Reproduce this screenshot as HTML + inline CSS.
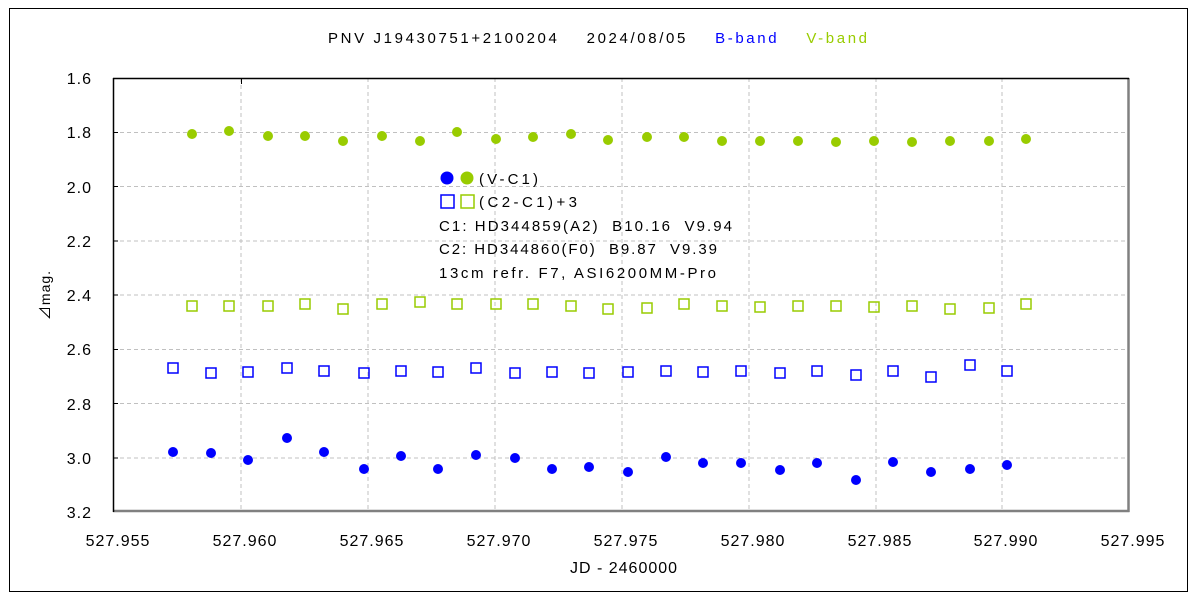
<!DOCTYPE html>
<html><head><meta charset="utf-8"><style>
body{margin:0;background:#fff}
svg text{font-family:"Liberation Sans","Noto Sans CJK JP",sans-serif;letter-spacing:1px}
</style></head><body>
<svg width="1200" height="600" xmlns="http://www.w3.org/2000/svg">
<rect x="0" y="0" width="1200" height="600" fill="#fff"/>
<rect x="9.5" y="8.5" width="1178" height="583" fill="none" stroke="#000" stroke-width="1"/>
<g stroke="#c0c0c0" stroke-dasharray="4,3" stroke-width="1">
<line x1="113" y1="132.5" x2="1129" y2="132.5"/><line x1="113" y1="186.5" x2="1129" y2="186.5"/>
<line x1="113" y1="241" x2="1129" y2="241"/><line x1="113" y1="295" x2="1129" y2="295"/>
<line x1="113" y1="349.5" x2="1129" y2="349.5"/><line x1="113" y1="403.5" x2="1129" y2="403.5"/>
<line x1="113" y1="458" x2="1129" y2="458"/>
<line x1="241" y1="78" x2="241" y2="512"/><line x1="368" y1="78" x2="368" y2="512"/>
<line x1="495" y1="78" x2="495" y2="512"/><line x1="622" y1="78" x2="622" y2="512"/>
<line x1="749" y1="78" x2="749" y2="512"/><line x1="876" y1="78" x2="876" y2="512"/>
<line x1="1002" y1="78" x2="1002" y2="512"/>
</g>
<line x1="1128.5" y1="78" x2="1128.5" y2="512" stroke="#808080" stroke-width="2.5"/>
<line x1="113" y1="511" x2="1129.5" y2="511" stroke="#808080" stroke-width="2.5"/>
<line x1="113" y1="78.5" x2="1129" y2="78.5" stroke="#000" stroke-width="1.5"/>
<line x1="113.5" y1="78" x2="113.5" y2="512" stroke="#000" stroke-width="1.5"/>
<g stroke="#000"><line x1="113" y1="132.5" x2="118" y2="132.5"/><line x1="113" y1="186.5" x2="118" y2="186.5"/><line x1="113" y1="241" x2="118" y2="241"/><line x1="113" y1="295" x2="118" y2="295"/><line x1="113" y1="349.5" x2="118" y2="349.5"/><line x1="113" y1="403.5" x2="118" y2="403.5"/><line x1="113" y1="458" x2="118" y2="458"/>
<line x1="241.5" y1="78" x2="241.5" y2="84"/></g>
<g font-size="16" text-anchor="end" fill="#000" style="letter-spacing:2px">
<text x="92" y="84">1.6</text><text x="92" y="138">1.8</text><text x="92" y="193">2.0</text><text x="92" y="247">2.2</text><text x="92" y="301">2.4</text><text x="92" y="355">2.6</text><text x="92" y="410">2.8</text><text x="92" y="464">3.0</text><text x="92" y="518">3.2</text>
</g>
<g font-size="16" text-anchor="middle" fill="#000" style="letter-spacing:3px">
<text x="118" y="546">527.955</text><text x="245" y="546">527.960</text><text x="372" y="546">527.965</text><text x="499" y="546">527.970</text><text x="626" y="546">527.975</text><text x="753" y="546">527.980</text><text x="880" y="546">527.985</text><text x="1006" y="546">527.990</text><text x="1133" y="546">527.995</text>
<text x="624" y="573">JD - 2460000</text>
</g>
<text x="0" y="0" font-size="14" text-anchor="middle" transform="translate(50,295) rotate(-90)">⊿mag.</text>
<text x="328" y="43" font-size="15" fill="#000" textLength="540" lengthAdjust="spacing" style="white-space:pre" xml:space="preserve">PNV J19430751+2100204    2024/08/05    <tspan fill="#0000ff">B-band</tspan>    <tspan fill="#99cc00">V-band</tspan></text>
<g font-size="15" fill="#000">
<circle cx="447" cy="178" r="6.5" fill="#0000ff"/><circle cx="467" cy="178" r="6.5" fill="#99cc00"/>
<text x="479" y="184" textLength="60" lengthAdjust="spacing">(V-C1)</text>
<rect x="441" y="195" width="13" height="13" fill="none" stroke="#0000ff" stroke-width="1.5"/>
<rect x="461" y="195" width="13" height="13" fill="none" stroke="#99cc00" stroke-width="1.5"/>
<text x="479" y="207" textLength="99" lengthAdjust="spacing">(C2-C1)+3</text>
<text x="439" y="231" textLength="294" lengthAdjust="spacing" style="white-space:pre" xml:space="preserve">C1: HD344859(A2)  B10.16  V9.94</text>
<text x="439" y="254" textLength="279" lengthAdjust="spacing" style="white-space:pre" xml:space="preserve">C2: HD344860(F0)  B9.87  V9.39</text>
<text x="439" y="278" textLength="278" lengthAdjust="spacing">13cm refr. F7, ASI6200MM-Pro</text>
</g>
<g id="pts"></g>
</svg>
<script>
var bx=[173,211,248,287,324,364,401,438,476,515,552,589,628,666,703,741,780,817,856,893,931,970,1007];
var bd=[452,453,460,438,452,469,456,469,455,458,469,467,472,457,463,463,470,463,480,462,472,469,465];
var bs=[368,373,372,368,371,373,371,372,368,373,372,373,372,371,372,371,373,371,375,371,377,365,371];
var vx=[192,229,268,305,343,382,420,457,496,533,571,608,647,684,722,760,798,836,874,912,950,989,1026];
var vd=[134,131,136,136,141,136,141,132,139,137,134,140,137,137,141,141,141,142,141,142,141,141,139];
var vs=[306,306,306,304,309,304,302,304,304,304,306,309,308,304,306,307,306,306,307,306,309,308,304];
var s='';
for(var i=0;i<23;i++){
s+='<circle cx="'+bx[i]+'" cy="'+bd[i]+'" r="5" fill="#0000ff"/>';
s+='<rect x="'+(bx[i]-5)+'" y="'+(bs[i]-5)+'" width="10" height="10" fill="none" stroke="#0000ff" stroke-width="1.5"/>';
s+='<circle cx="'+vx[i]+'" cy="'+vd[i]+'" r="5" fill="#99cc00"/>';
s+='<rect x="'+(vx[i]-5)+'" y="'+(vs[i]-5)+'" width="10" height="10" fill="none" stroke="#99cc00" stroke-width="1.5"/>';
}
document.getElementById('pts').innerHTML=s;
</script>
</body></html>
